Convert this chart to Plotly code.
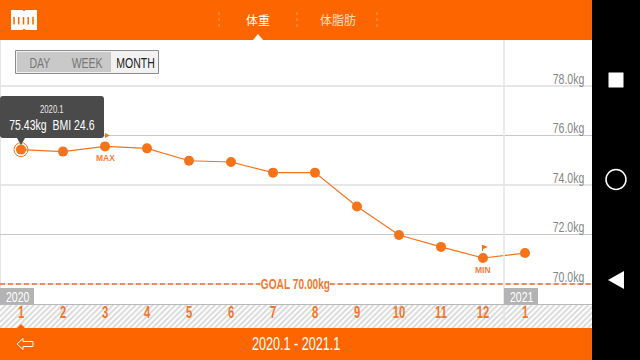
import plotly.graph_objects as go

months = [1, 2, 3, 4, 5, 6, 7, 8, 9, 10, 11, 12, 13]
month_labels = ["1", "2", "3", "4", "5", "6", "7", "8", "9", "10", "11", "12", "1"]
weight = [75.43, 75.35, 75.56, 75.48, 74.98, 74.93, 74.50, 74.50, 73.13, 71.98, 71.50, 71.05, 71.25]
y_ticks = [78, 76, 74, 72, 70]
goal = 70.0

W, H = 640, 360
ORANGE = "#fc6500"
LINE = "#f6731a"
NARROW = "Liberation Sans, sans-serif"
CJK = "Noto Sans CJK JP, sans-serif"

def px(x): return x / W
def py(y): return 1 - y / H

PLOT_R = 592
STEP = 42
X0 = 0.5
X1 = X0 + PLOT_R / STEP
Y_PER_PX = 1 / 24.75
YMIN = 70 - (305 - 284) * Y_PER_PX
YMAX = 70 + (284 - 40) * Y_PER_PX

fig = go.Figure()

# hatched strip behind the month labels (on the axis that carries the labels)
fig.add_trace(go.Bar(x=[(X0 + X1) / 2], y=[1], width=[X1 - X0], yaxis="y",
                     marker=dict(color="#ffffff", line_width=0,
                                 pattern=dict(shape="/", fgcolor="#b4b4b4", bgcolor="#ffffff", size=4, solidity=0.5)),
                     hoverinfo="skip", showlegend=False))
# goal line
fig.add_trace(go.Scatter(x=[X0, 6.7, None, 8.35, X1], y=[goal, goal, None, goal, goal], mode="lines", yaxis="y2",
                         line=dict(color="#e96f3c", width=1.5, dash="5px,3px"), hoverinfo="skip", showlegend=False))
# weight series
fig.add_trace(go.Scatter(x=months, y=weight, mode="lines+markers", yaxis="y2", line=dict(color=LINE, width=1.2),
                         marker=dict(color=LINE, size=10), hoverinfo="skip", showlegend=False))
# selection ring
fig.add_trace(go.Scatter(x=months[:1], y=weight[:1], mode="markers", yaxis="y2",
                         marker=dict(symbol="circle-open", color=LINE, size=14, line=dict(width=1, color=LINE)),
                         hoverinfo="skip", showlegend=False))

def rect(x0, y0, x1, y1, fill, line=None, lw=0, layer="above"):
    return dict(type="rect", xref="paper", yref="paper", x0=px(x0), x1=px(x1), y0=py(y0), y1=py(y1),
                fillcolor=fill, line=dict(color=line or fill, width=lw), layer=layer)

def path(points, fill, line=None, lw=0):
    d = "M " + " L ".join(f"{px(x):.5f},{py(y):.5f}" for x, y in points) + " Z"
    return dict(type="path", xref="paper", yref="paper", path=d, fillcolor=fill,
                line=dict(color=line or fill, width=lw), layer="above")

def seg(x0, y0, x1, y1, color, width=1, dash="solid", layer="above"):
    return dict(type="line", xref="paper", yref="paper", x0=px(x0), x1=px(x1), y0=py(y0), y1=py(y1),
                line=dict(color=color, width=width, dash=dash), layer=layer)

shapes = [
    # gap in the 70 kg gridline behind the goal label
    dict(type="rect", xref="x", yref="y2", x0=6.7, x1=8.35, y0=69.8, y1=70.2,
         fillcolor="#ffffff", line=dict(width=0), layer="between"),
    # vertical guides
    dict(type="line", xref="x", yref="paper", x0=12.5, x1=12.5, y0=py(328), y1=py(40),
         line=dict(color="#e4e4e4", width=1.5), layer="above"),
    dict(type="line", xref="x", yref="paper", x0=X0 + 0.012, x1=X0 + 0.012, y0=py(305), y1=py(40),
         line=dict(color="#e4e4e4", width=1), layer="below"),
    seg(0, 304.5, 592, 304.5, "#b9b9b9", 1),
    # header and footer
    rect(0, 0, 592, 40, ORANGE),
    rect(0, 328, 592, 360, ORANGE),
    path([(17, 328), (21, 324), (25, 328)], ORANGE),
    # header icon with notches
    dict(type="rect", xref="paper", yref="paper", x0=px(11), x1=px(37), y0=py(30), y1=py(10),
         fillcolor="#ffffff", line=dict(color="#ffffff", width=0), layer="above"),
    path([(22.5, 10), (24, 11.5), (25.5, 10)], ORANGE),
    path([(22.5, 30), (24, 28.5), (25.5, 30)], ORANGE),
    # tab separators and indicator
    seg(219, 12, 219, 28, "#ffa060", 1, "dot"),
    seg(297, 12, 297, 28, "#ffa060", 1, "dot"),
    seg(377, 12, 377, 28, "#ffa060", 1, "dot"),
    path([(253, 40), (258, 34), (263, 40)], "#ffffff"),
    # range buttons
    rect(15.5, 50.5, 158.5, 73.5, "#f2f2f2", "#8c8c8c", 1),
    rect(17, 52, 111, 72, "#c9c9c9"),
    # tooltip
    dict(type="path", xref="paper", yref="paper", layer="above", fillcolor="#4a4a4a",
         line=dict(color="#4a4a4a", width=0),
         path=" ".join([
             f"M {px(0):.5f},{py(99):.5f}", f"Q {px(0):.5f},{py(96):.5f} {px(3):.5f},{py(96):.5f}",
             f"L {px(101):.5f},{py(96):.5f}", f"Q {px(104):.5f},{py(96):.5f} {px(104):.5f},{py(99):.5f}",
             f"L {px(104):.5f},{py(135):.5f}", f"Q {px(104):.5f},{py(138):.5f} {px(101):.5f},{py(138):.5f}",
             f"L {px(25):.5f},{py(138):.5f}", f"L {px(21):.5f},{py(145):.5f}", f"L {px(17):.5f},{py(138):.5f}",
             f"L {px(3):.5f},{py(138):.5f}", f"Q {px(0):.5f},{py(138):.5f} {px(0):.5f},{py(135):.5f}", "Z"])),
    # flags
    path([(105, 133), (110, 135.5), (105, 138)], LINE),
    path([(483, 245), (488, 247), (483, 249)], LINE),
    seg(482.5, 245, 482.5, 251, LINE, 1),
    # year tags
    rect(0, 288, 34, 304.5, "#b3b3b3"),
    rect(504, 288, 538, 304.5, "#b3b3b3"),
    # back arrow
    path([(17, 344), (23, 338.5), (23, 341.5), (33, 341.5), (33, 346.5), (23, 346.5), (23, 349.5)],
         "rgba(0,0,0,0)", "#ffffff", 1),
    # navigation bar
    rect(592, 0, 640, 360, "#000000"),
    dict(type="rect", xref="paper", yref="paper", x0=px(608.5), x1=px(623.5), y0=py(87.5), y1=py(72.5),
         fillcolor="#ffffff", line=dict(color="#ffffff", width=0), layer="above"),
    dict(type="circle", xref="paper", yref="paper", x0=px(606), x1=px(626), y0=py(189.5), y1=py(169.5),
         fillcolor="rgba(0,0,0,0)", line=dict(color="#ffffff", width=1.5), layer="above"),
    path([(608, 280), (624, 271), (624, 289)], "#ffffff"),
]
for x in [14, 18.7, 23.5, 28.2, 33]:
    shapes.append(seg(x, 17, x, 24.5, ORANGE, 1.5))

def note(x, y, text, size, color, font=NARROW, weight=400):
    return dict(xref="paper", yref="paper", x=px(x), y=py(y), text=text, showarrow=False, xanchor="center",
                yanchor="middle", font=dict(family=font, size=size, color=color, weight=weight))

annotations = [
    note(258, 19, "体重", 12, "#ffffff", CJK),
    note(338, 19, "体脂肪", 12, "#ffe0c8", CJK),
    note(40, 62, "DAY", 15, "#777777"),
    note(87, 62, "WEEK", 15, "#777777"),
    note(135, 62, "MONTH", 15, "#222222"),
    note(52, 109, "2020.1", 11, "#e8e8e8"),
    note(52, 124, "75.43kg&#160;&#160;BMI 24.6", 15, "#ffffff"),
    note(105, 158, "<b>MAX</b>", 8.5, "#f08040"),
    note(483, 270, "<b>MIN</b>", 8.5, "#f08040"),
    note(295, 284, "GOAL 70.00kg", 14.5, "#ee7a30", weight=700),
    note(17, 296.5, "2020", 15, "#ffffff"),
    note(521, 296.5, "2021", 15, "#ffffff"),
    note(296, 344, "2020.1 - 2021.1", 18, "#ffffff"),
]
for v in y_ticks:
    annotations.append(dict(xref="paper", yref="y2", x=px(568), y=v, yshift=8, text=f"{v:.1f}kg", showarrow=False,
                            xanchor="center", yanchor="middle", font=dict(family=NARROW, size=15, color="#858585")))

fig.update_layout(
    width=W, height=H, margin=dict(l=0, r=0, t=0, b=0), autosize=False,
    paper_bgcolor="#ffffff", plot_bgcolor="rgba(0,0,0,0)", showlegend=False,
    shapes=shapes, annotations=annotations,
    xaxis=dict(domain=[0, PLOT_R / W], range=[X0, X1], tickmode="array", tickvals=months, ticktext=month_labels,
               showgrid=False, zeroline=False, showline=False, ticks="", ticklabelposition="inside",
               ticklabelstandoff=4, tickfont=dict(family=NARROW, size=16, color="#f0762a", weight=700), anchor="y"),
    yaxis=dict(domain=[(H - 328) / H, (H - 305) / H], range=[0, 1], showticklabels=False, showgrid=False,
               zeroline=False, ticks="", anchor="x"),
    yaxis2=dict(domain=[(H - 305) / H, (H - 40) / H], range=[YMIN, YMAX], tickmode="linear", tick0=72, dtick=4,
                showticklabels=False, ticks="", zeroline=False, showline=False, anchor="x",
                showgrid=True, gridcolor="#c9c9c9", gridwidth=1,
                minor=dict(tickmode="linear", tick0=70, dtick=2, showgrid=True, gridcolor="#e6e6e6", gridwidth=2)),
)

# No page margin; Latin labels are drawn condensed, as in the reference's narrow typeface.
post = """
document.documentElement.style.overflow='hidden';
document.body.style.margin='0';
function condense(){
  document.querySelectorAll('svg text').forEach(function(t){
    var s=t.textContent;
    if(/[\\u3000-\\u9fff]/.test(s)||s==='MAX'||s==='MIN'||!s||t.hasAttribute('textLength')) return;
    var n=t.getComputedTextLength();
    if(n>0){t.setAttribute('textLength',(n*0.7).toFixed(2));t.setAttribute('lengthAdjust','spacingAndGlyphs');}
  });
}
condense();
setTimeout(condense,30);
"""
fig.write_html("out.html", config=dict(displayModeBar=False), post_script=post)
